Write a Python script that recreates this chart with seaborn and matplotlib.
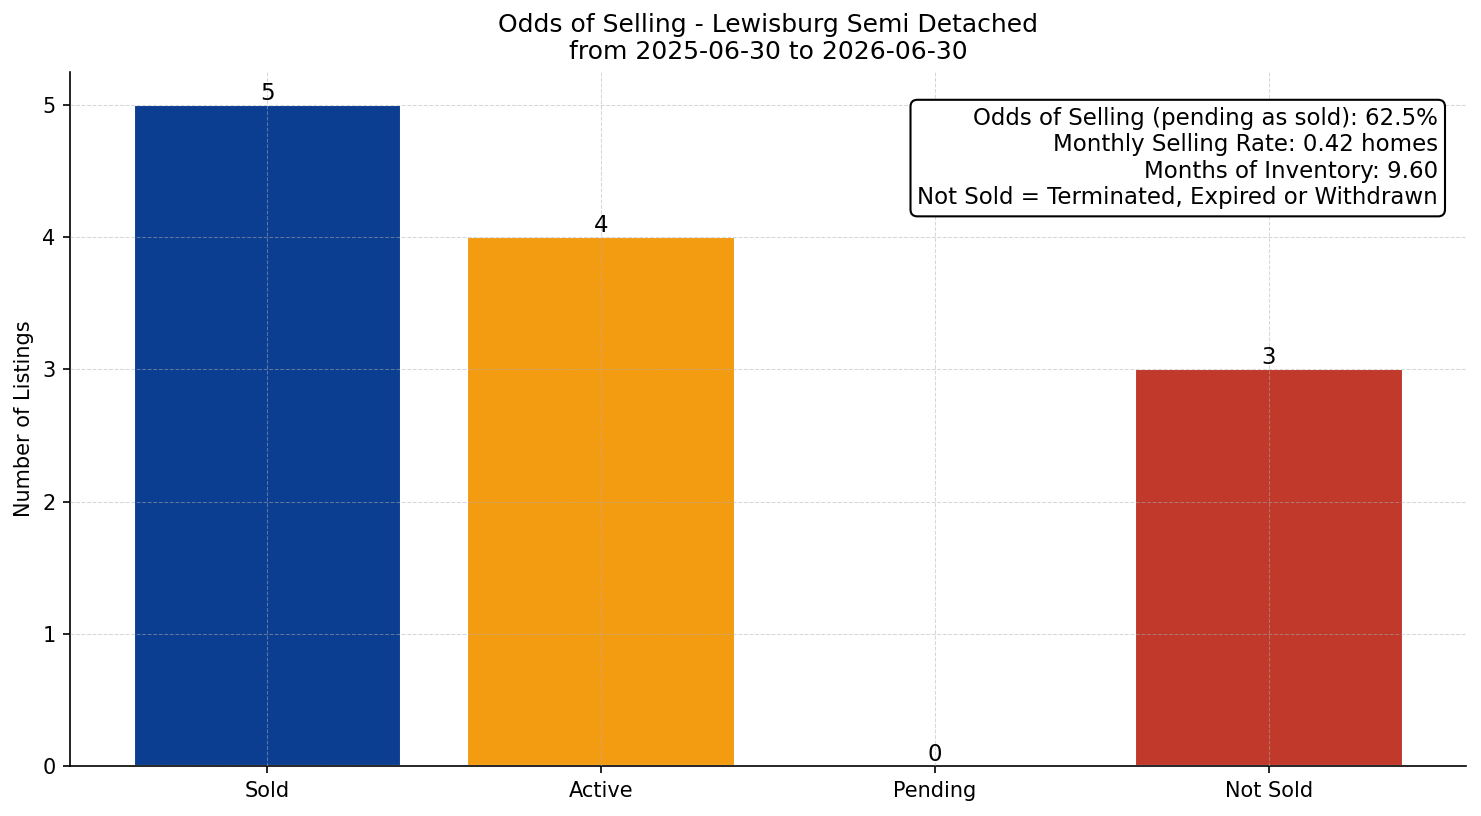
import matplotlib
matplotlib.use('Agg')
import matplotlib.pyplot as plt
import seaborn as sns
import pandas as pd

# data
statuses = ['Sold', 'Active', 'Pending', 'Not Sold']
counts = [5, 4, 0, 3]
colors = ['#0b3d91', '#f39c12', '#2e86c1', '#c0392b']

odds_selling = 62.5
monthly_rate = 0.42
months_inventory = 9.60


def plot():
    sns.set_style('white')
    plt.rcParams['font.family'] = ['DejaVu Sans']
    plt.rcParams['text.color'] = 'black'
    plt.rcParams['axes.labelcolor'] = 'black'
    plt.rcParams['xtick.color'] = 'black'
    plt.rcParams['ytick.color'] = 'black'

    df = pd.DataFrame({'Status': statuses, 'Count': counts})

    fig, ax = plt.subplots(figsize=(1481 / 150, 816 / 150), dpi=150)
    sns.barplot(data=df, x='Status', y='Count', hue='Status', palette=colors,
                legend=False, width=0.8, saturation=1, ax=ax)

    for container in ax.containers:
        ax.bar_label(container, fontsize=11, color='black')

    ax.set_title('Odds of Selling - Lewisburg Semi Detached\nfrom 2025-06-30 to 2026-06-30', fontsize=12)
    ax.set_xlabel('')
    ax.set_ylabel('Number of Listings', fontsize=10)
    ax.tick_params(axis='both', labelsize=10, length=3.5, width=0.8, left=True, bottom=True)
    ax.set_axisbelow(False)
    ax.grid(True, linestyle='--', linewidth=0.5, alpha=0.5, color='#b0b0b0')
    ax.set_xlim(-0.59, 3.59)
    ax.set_ylim(0, 5.25)
    sns.despine(ax=ax)
    for s in ['left', 'bottom']:
        ax.spines[s].set_color('black')
        ax.spines[s].set_linewidth(0.8)

    info = (f'Odds of Selling (pending as sold): {odds_selling:.1f}%\n'
            f'Monthly Selling Rate: {monthly_rate:.2f} homes\n'
            f'Months of Inventory: {months_inventory:.2f}\n'
            'Not Sold = Terminated, Expired or Withdrawn')
    ax.text(0.98, 0.95, info, transform=ax.transAxes, ha='right', va='top', fontsize=11,
            bbox=dict(boxstyle='round,pad=0.3', facecolor='white', edgecolor='black', linewidth=1.0))

    fig.subplots_adjust(left=0.0473, right=0.9899, top=0.9118, bottom=0.0613)
    fig.savefig('out.png', dpi=150)


if __name__ == '__main__':
    plot()
